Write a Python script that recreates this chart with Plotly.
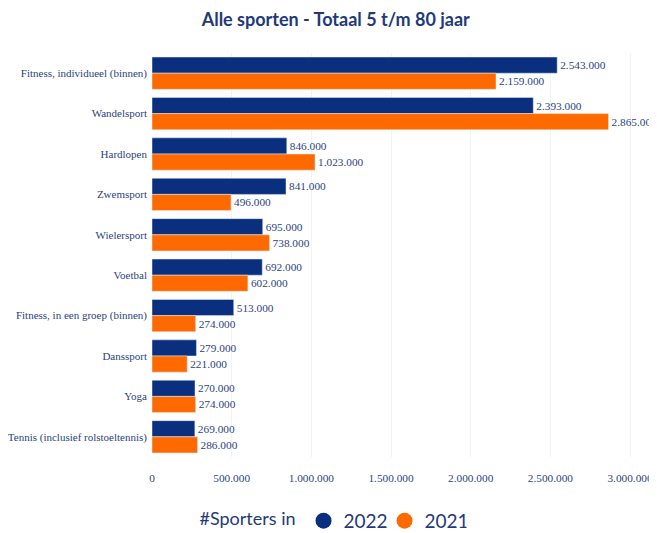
import plotly.graph_objects as go

categories = [
    "Fitness, individueel (binnen)",
    "Wandelsport",
    "Hardlopen",
    "Zwemsport",
    "Wielersport",
    "Voetbal",
    "Fitness, in een groep (binnen)",
    "Danssport",
    "Yoga",
    "Tennis (inclusief rolstoeltennis)",
]
values_2022 = [2543000, 2393000, 846000, 841000, 695000, 692000, 513000, 279000, 270000, 269000]
values_2021 = [2159000, 2865000, 1023000, 496000, 738000, 602000, 274000, 221000, 274000, 286000]
tick_values = [0, 500000, 1000000, 1500000, 2000000, 2500000, 3000000]

NAVY = "#0a2f7e"
ORANGE = "#ff6a00"
TEXT = "#2b3f7f"
SERIF = "Liberation Serif"
SANS = "Lato"

fig = go.Figure()
fig.add_trace(go.Bar(
    y=categories, x=values_2022, orientation="h", name="2022",
    marker_color=NAVY, showlegend=False,
    texttemplate="%{x:,.0f}", textposition="outside", cliponaxis=False,
    textfont=dict(family=SERIF, size=11.3, color=TEXT),
))
fig.add_trace(go.Bar(
    y=categories, x=values_2021, orientation="h", name="2021",
    marker_color=ORANGE, showlegend=False,
    texttemplate="%{x:,.0f}", textposition="outside", cliponaxis=False,
    textfont=dict(family=SERIF, size=11.3, color=TEXT),
))
# legend entries with round markers
for name, col in [("2022", NAVY), ("2021", ORANGE)]:
    fig.add_trace(go.Scatter(
        x=[None], y=[None], mode="markers", name=name,
        marker=dict(symbol="circle", size=17, color=col),
    ))

fig.update_layout(
    width=649, height=525,
    separators=",.",
    paper_bgcolor="white", plot_bgcolor="white",
    margin=dict(l=144, r=12, t=45, b=76, autoexpand=False),
    barmode="group", bargap=0.2, bargroupgap=0,
    title=dict(text="<b>Alle sporten - Totaal 5 t/m 80 jaar</b>",
               x=0.505, xanchor="center", y=0.977, yanchor="middle",
               font=dict(family=SANS, size=18, color="#1f3a7a")),
    xaxis=dict(range=[0, 3094000], tickvals=tick_values, tickformat=",.0f",
               showgrid=True, gridcolor="#f2f2f6", zeroline=False,
               tickfont=dict(family=SERIF, size=11.3, color=TEXT),
               showline=False, ticks="", ticklabelstandoff=13, automargin=False,
               ticklabeloverflow="allow"),
    yaxis=dict(autorange="reversed", showgrid=False, showline=False, ticks="",
               tickfont=dict(family=SERIF, size=11, color=TEXT),
               ticklabelstandoff=4, automargin=False),
    legend=dict(orientation="h", xref="container", yref="paper",
                x=0.292, xanchor="left", y=-0.205, yanchor="bottom",
                title=dict(text="#Sporters in", font=dict(family=SANS, size=18, color="#1f3a7a")),
                font=dict(family=SANS, size=19, color="#1f3a7a"),
                itemsizing="trace", itemwidth=30, tracegroupgap=0,
                entrywidth=36, entrywidthmode="pixels"),
)

fig.write_html("out.html")
